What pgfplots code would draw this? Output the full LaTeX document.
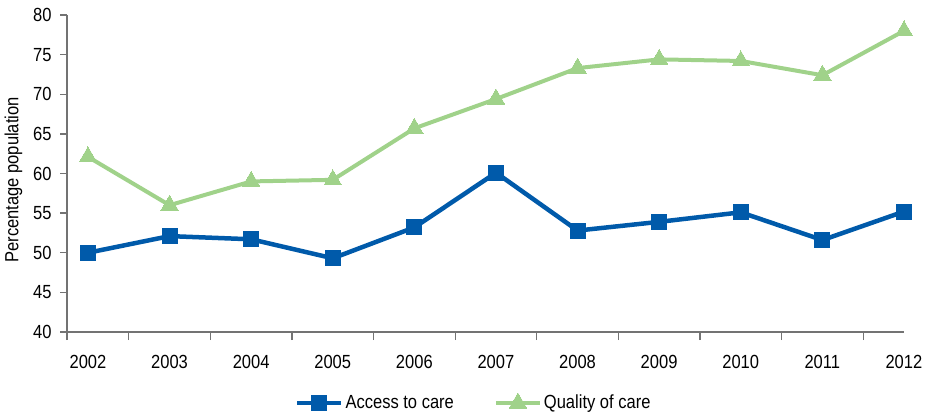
\documentclass[border=0pt]{standalone}
\usepackage{fontspec}
\setmainfont{Liberation Sans}[FakeStretch=0.87]
\usepackage{pgfplots}
\pgfplotsset{compat=1.18}

\definecolor{accessblue}{RGB}{0,90,170}
\definecolor{qualitygreen}{RGB}{160,210,138}
\definecolor{axisgray}{RGB}{115,115,115}

\begin{document}
\fontsize{19}{22}\selectfont
\begin{tikzpicture}
\useasboundingbox (-67pt,-83pt) rectangle (861pt,332pt);
\begin{axis}[
    at={(0,0)}, anchor=south west,
    scale only axis,
    width=837pt, height=317pt,
    xmin=2001.743, xmax=2012,
    ymin=40, ymax=80,
    clip=false,
    axis x line*=bottom,
    axis y line*=left,
    axis line style={axisgray, line width=1.3pt},
    every tick/.style={axisgray, line width=1.3pt},
    tick align=outside,
    xtick={2002,...,2012},
    major x tick style={draw=none},
    minor xtick={2001.743,2002.5,2003.5,...,2011.5},
    minor tick length=8pt,
    xticklabel style={yshift=-10pt},
    x tick label style={/pgf/number format/1000 sep={}},
    ytick={40,45,...,80},
    major tick length=7pt,
    yticklabel style={xshift=-2pt},
    /pgf/number format/assume math mode=true,
    every axis y label/.style={at={(axis description cs:-0.064,0.48)}, rotate=90, anchor=center},
    ylabel={Percentage population},
    legend columns=2,
    legend style={at={(axis description cs:0.486,-0.224)}, anchor=center, draw=none,
        /tikz/every even column/.append style={column sep=38pt}},
    legend cell align=left,
    legend image code/.code={
        \draw[mark repeat=2, mark phase=2] plot coordinates {(0pt,0pt) (22pt,0pt) (44pt,0pt)};
    },
]
\addplot[color=accessblue, line width=4.5pt, mark=square*, mark size=7.5pt,
    mark options={line width=0pt, fill=accessblue}]
coordinates {
(2002, 50.0)
(2003, 52.1)
(2004, 51.7)
(2005, 49.3)
(2006, 53.2)
(2007, 60.1)
(2008, 52.8)
(2009, 53.9)
(2010, 55.1)
(2011, 51.6)
(2012, 55.2)
};
\addplot[color=qualitygreen, line width=4pt, mark=triangle*, mark size=10pt,
    mark options={line width=0pt, fill=qualitygreen}]
coordinates {
(2002, 62.1)
(2003, 56.0)
(2004, 59.0)
(2005, 59.2)
(2006, 65.7)
(2007, 69.4)
(2008, 73.3)
(2009, 74.4)
(2010, 74.2)
(2011, 72.4)
(2012, 78.0)
};
\legend{Access to care, Quality of care}
\end{axis}
\end{tikzpicture}
\end{document}
